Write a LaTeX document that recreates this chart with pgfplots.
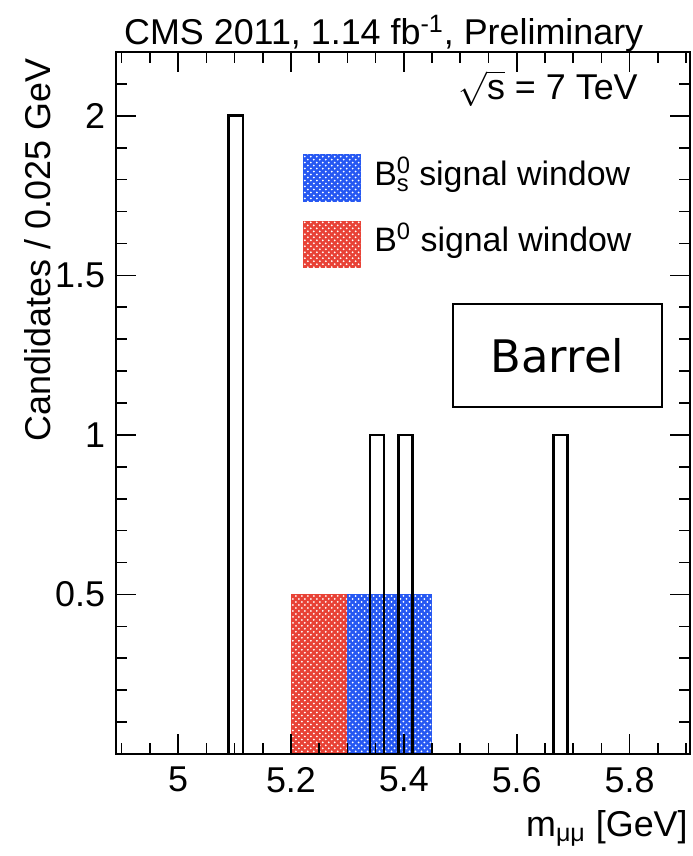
\documentclass[border=0pt]{standalone}
\usepackage{fontspec}
\setmainfont{Liberation Sans}
\newfontfamily\boxfont{DejaVu Sans}
\usepackage{amsmath}
\usepackage{pgfplots}
\pgfplotsset{compat=1.18}
\usetikzlibrary{patterns}

\definecolor{bsblue}{RGB}{38,88,242}
\definecolor{bdred}{RGB}{232,66,54}

\begin{document}
\begin{tikzpicture}
\path[use as bounding box] (-58bp,-51bp) rectangle (288.5bp,377bp);
\begin{axis}[
  scale only axis,
  width=287bp, height=351bp,
  xmin=4.89, xmax=5.907,
  ymin=0, ymax=2.2,
  axis on top,
  xtick={5,5.2,5.4,5.6,5.8},
  xticklabels={5,5.2,5.4,5.6,5.8},
  minor xtick={4.9,4.95,5.05,5.1,5.15,5.25,5.3,5.35,5.45,5.5,5.55,5.65,5.7,5.75,5.85,5.9},
  ytick={0.5,1,1.5,2},
  yticklabels={0.5,1,1.5,2},
  minor ytick={0.1,0.2,0.3,0.4,0.6,0.7,0.8,0.9,1.1,1.2,1.3,1.4,1.6,1.7,1.8,1.9,2.1},
  tick align=inside,
  major tick length=10bp,
  minor tick length=5.5bp,
  every tick/.style={black, line width=0.8bp},
  axis line style={line width=1.2bp},
  ticklabel style={font=\fontsize{18}{20}\selectfont},
  xticklabel style={yshift=-3bp},
  yticklabel style={xshift=-2bp},
  /pgf/number format/assume math mode=true,
]
% B0 and Bs signal windows
\addplot[draw=none, fill=bdred,
  postaction={pattern=crosshatch dots, pattern color=white}]
  coordinates {(5.2,0) (5.2,0.5) (5.3,0.5) (5.3,0)} -- cycle;
\addplot[draw=none, fill=bsblue,
  postaction={pattern=crosshatch dots, pattern color=white}]
  coordinates {(5.3,0) (5.3,0.5) (5.45,0.5) (5.45,0)} -- cycle;
% candidates histogram, bins of 0.025 GeV
\addplot[const plot, black, line width=1.4bp] coordinates {
  (4.89,0) (5.09,2) (5.115,0) (5.34,1) (5.365,0) (5.39,1) (5.415,0)
  (5.665,1) (5.69,0) (5.907,0)};
\end{axis}

% titles
\node[anchor=base west, font=\fontsize{18}{20}\selectfont, inner sep=0pt]
  at (3.9bp,354.5bp) {CMS 2011, 1.14 fb\textsuperscript{-1}, Preliminary};
\node[anchor=base east, font=\fontsize{18}{20}\selectfont, inner sep=0pt]
  at (261bp,327bp) {$\sqrt{\text{s}}$ = 7 TeV};
\node[anchor=base east, rotate=90, font=\fontsize{18}{20}\selectfont, inner sep=0pt]
  at (-33bp,348bp) {Candidates / 0.025 GeV};
\node[anchor=base east, font=\fontsize{18}{20}\selectfont, inner sep=0pt]
  at (286bp,-41bp) {m\textsubscript{μμ} [GeV]};

% legend
\fill[bsblue] (93.4bp,276.2bp) rectangle (122.5bp,300bp);
\fill[pattern=crosshatch dots, pattern color=white] (93.4bp,276.2bp) rectangle (122.5bp,300bp);
\fill[bdred] (93.4bp,243bp) rectangle (122.5bp,266.5bp);
\fill[pattern=crosshatch dots, pattern color=white] (93.4bp,243bp) rectangle (122.5bp,266.5bp);
\node[anchor=base west, font=\fontsize{17}{19}\selectfont, inner sep=0pt]
  at (129bp,284bp) {B\rlap{\textsuperscript{0}}\textsubscript{s} signal window};
\node[anchor=base west, font=\fontsize{17}{19}\selectfont, inner sep=0pt]
  at (129bp,251bp) {B\textsuperscript{0} signal window};

% region label
\draw[line width=1bp] (168.4bp,173.7bp) rectangle (273bp,225bp);
\node[font=\boxfont\fontsize{22.5}{24}\selectfont] at (220.7bp,199.3bp) {Barrel};
\end{tikzpicture}
\end{document}
